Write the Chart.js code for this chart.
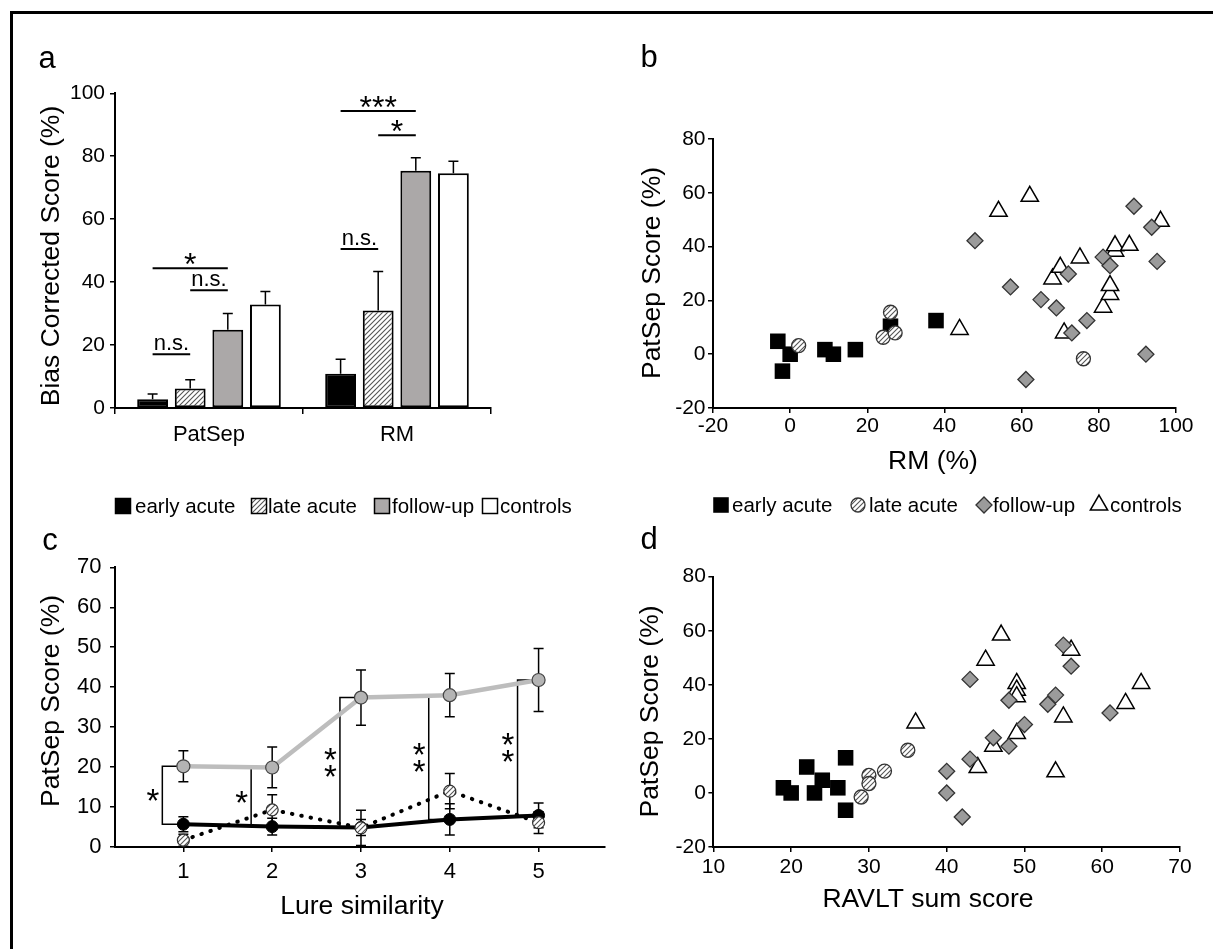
<!DOCTYPE html>
<html>
<head>
<meta charset="utf-8">
<script src="https://cdn.jsdelivr.net/npm/chart.js@4.4.1/dist/chart.umd.min.js"></script>
<style>
  html, body { margin: 0; padding: 0; background: #fff; }
  body { width: 1213px; height: 949px; position: relative; overflow: hidden; }
  .frame { position: absolute; left: 10px; top: 11px; width: 1220px; height: 960px;
           border-top: 3px solid #000; border-left: 3px solid #000; }
  canvas { position: absolute; }
  #panelA { left: 0; top: 0; }
  #panelB { left: 606px; top: 0; }
  #panelC { left: 0; top: 520px; }
  #panelD { left: 606px; top: 520px; }
</style>
</head>
<body>
<div class="frame"></div>
<canvas id="panelA" width="606" height="520"></canvas>
<canvas id="panelB" width="607" height="520"></canvas>
<canvas id="panelC" width="612" height="429"></canvas>
<canvas id="panelD" width="607" height="429"></canvas>
<script>
// --- a: bias corrected scores (mean, upper SEM) ---
const measures = ['PatSep', 'RM'];
const earlyAcuteBias = [2.75, 10.9];
const lateAcuteBias = [6.2, 31.0];
const followUpBias = [24.9, 75.4];
const controlsBias = [32.9, 74.6];
const earlyAcuteBiasErr = [1.7, 4.6];
const lateAcuteBiasErr = [2.8, 12.4];
const followUpBiasErr = [5.1, 4.1];
const controlsBiasErr = [4.1, 3.8];
// [measure, group a, group b, bar level, mark]
const biasSignif = [
  [0, 0, 2, 44.4, '*'],
  [0, 1, 2, 37.4, 'n.s.'],
  [0, 0, 1, 17.1, 'n.s.'],
  [1, 0, 2, 94.4, '***'],
  [1, 1, 2, 86.7, '*'],
  [1, 0, 1, 50.5, 'n.s.']
];

// --- b: RM vs PatSep score ---
const rmEarly = [-3.2, -2.0, 0.0, 9.0, 11.2, 16.9, 26.0, 37.8];
const patSepEarlyB = [4.8, -6.3, 0.0, 1.7, 0.0, 1.7, 10.4, 12.5];
const rmLate = [2.2, 24.1, 26.0, 27.2, 76.0];
const patSepLateB = [3.2, 6.3, 15.6, 7.9, -1.7];
const rmFollowUp = [47.9, 57.1, 61.1, 65.0, 69.0, 72.1, 73.0, 76.9, 81.1, 82.9, 89.1, 92.2, 93.7, 95.1];
const patSepFollowUpB = [42.2, 25.0, -9.4, 20.3, 17.2, 29.8, 7.9, 12.5, 36.1, 32.9, 55.0, 0.0, 47.2, 34.5];
const rmControls = [43.9, 54.0, 62.1, 68.0, 70.0, 71.0, 75.1, 81.1, 82.9, 82.9, 84.2, 84.2, 87.9, 96.0];
const patSepControlsB = [9.2, 53.1, 58.7, 28.0, 32.3, 7.9, 35.8, 17.5, 22.2, 25.5, 38.3, 40.3, 40.5, 49.4];

// --- c: PatSep score by lure similarity (mean, SEM) ---
const lureLevels = [1, 2, 3, 4, 5];
const earlyAcuteLure = [5.7, 5.1, 4.9, 6.9, 7.9];
const earlyAcuteLureErr = [1.9, 2.1, 2.0, 3.9, 3.1];
const lateAcuteLure = [1.7, 9.3, 4.8, 14.0, 6.1];
const lateAcuteLureErr = [1.5, 3.8, 4.4, 4.4, 2.7];
const followUpLure = [20.2, 19.9, 37.4, 38.0, 41.8];
const followUpLureErr = [3.9, 5.1, 6.9, 5.4, 7.9];
const lureStars = ['*', '*', '**', '**', '**'];

// --- d: RAVLT sum score vs PatSep score ---
const ravltEarly = [19, 20, 22, 23, 24, 26, 27, 27];
const patSepEarlyD = [1.9, 0.0, 9.6, 0.0, 4.7, 1.9, 13.0, -6.4];
const ravltLate = [29, 30, 30, 32, 35];
const patSepLateD = [-1.5, 6.5, 3.5, 8.1, 15.8];
const ravltFollowUp = [40, 40, 42, 43, 43, 46, 48, 48, 50, 53, 54, 55, 56, 61];
const patSepFollowUpD = [8.0, 0.0, -8.9, 42.0, 12.5, 20.4, 34.3, 17.3, 25.3, 32.8, 36.2, 54.7, 46.9, 29.6];
const ravltControls = [36, 44, 45, 46, 47, 49, 49, 49, 49, 54, 55, 56, 63, 65];
const patSepControlsD = [25.9, 9.4, 49.1, 17.3, 58.4, 40.5, 38.0, 35.6, 22.0, 7.8, 28.1, 52.8, 33.1, 40.5];

const FONT = "'Liberation Sans', Arial, Helvetica, sans-serif";
Chart.defaults.font.family = FONT;
Chart.defaults.font.size = 21;
Chart.defaults.color = '#000';
Chart.defaults.animation = false;
Chart.defaults.responsive = false;
Chart.defaults.events = [];
Chart.defaults.plugins.legend.display = false;
Chart.defaults.plugins.tooltip.enabled = false;

const zip = (xs, ys) => xs.map((x, i) => ({ x, y: ys[i] }));

function hatchPattern() {
  const c = document.createElement('canvas');
  c.width = c.height = 5;
  const g = c.getContext('2d');
  g.fillStyle = '#fff';
  g.fillRect(0, 0, 5, 5);
  g.strokeStyle = '#555';
  g.lineWidth = 1.1;
  g.beginPath();
  g.moveTo(0, 5); g.lineTo(5, 0);
  g.moveTo(-1, 1); g.lineTo(1, -1);
  g.moveTo(4, 6); g.lineTo(6, 4);
  g.stroke();
  return g.createPattern(c, 'repeat');
}
const hatch = hatchPattern();

function linearAxis(min, max, step, pad, fit, size) {
  return {
    type: 'linear', min, max,
    border: { color: '#000', width: 2 },
    grid: { drawOnChartArea: false, tickLength: 5, color: '#000', lineWidth: 1.5 },
    ticks: { stepSize: step, padding: pad, includeBounds: false, color: '#000', font: { size: size || 21 } },
    afterFit: fit
  };
}
const fixWidth = w => s => { s.width = w; };
const fixHeight = h => s => { s.height = h; };

// free text: panel letters and axis titles
function textLayer(items) {
  return {
    id: 'textLayer',
    afterDraw(chart) {
      const ctx = chart.ctx;
      items.forEach(t => {
        ctx.save();
        ctx.font = (t.size || 26) + 'px ' + FONT;
        ctx.fillStyle = '#000';
        ctx.textAlign = 'center';
        ctx.textBaseline = t.base || 'middle';
        ctx.translate(t.x, t.y);
        if (t.vertical) ctx.rotate(-Math.PI / 2);
        ctx.fillText(t.text, 0, 0);
        ctx.restore();
      });
    }
  };
}

function errorBars(capHalf, upperOnly, before) {
  const draw = chart => {
    const ctx = chart.ctx, y = chart.scales.y;
    ctx.save();
    ctx.strokeStyle = '#000';
    ctx.lineWidth = 1.5;
    chart.data.datasets.forEach((ds, di) => {
      if (!ds.errors) return;
      chart.getDatasetMeta(di).data.forEach((el, i) => {
        const raw = ds.data[i];
        const v = typeof raw === 'object' ? raw.y : raw;
        const e = ds.errors[i];
        const hi = y.getPixelForValue(v + e);
        const lo = y.getPixelForValue(upperOnly ? v : v - e);
        ctx.beginPath();
        ctx.moveTo(el.x, lo); ctx.lineTo(el.x, hi);
        ctx.moveTo(el.x - capHalf, hi); ctx.lineTo(el.x + capHalf, hi);
        if (!upperOnly) { ctx.moveTo(el.x - capHalf, lo); ctx.lineTo(el.x + capHalf, lo); }
        ctx.stroke();
      });
    });
    ctx.restore();
  };
  return before ? { id: 'errorBars', beforeDatasetsDraw: draw } : { id: 'errorBars', afterDatasetsDraw: draw };
}

function drawMarker(ctx, ds, x, y) {
  const r = ds.pointRadius;
  ctx.beginPath();
  if (ds.pointStyle === 'rect') {
    const h = r * Math.SQRT1_2;
    ctx.rect(x - h, y - h, 2 * h, 2 * h);
  } else if (ds.pointStyle === 'rectRot') {
    ctx.moveTo(x - r, y); ctx.lineTo(x, y - r); ctx.lineTo(x + r, y); ctx.lineTo(x, y + r);
    ctx.closePath();
  } else if (ds.pointStyle === 'triangle') {
    ctx.moveTo(x, y - r); ctx.lineTo(x + 0.866 * r, y + 0.5 * r); ctx.lineTo(x - 0.866 * r, y + 0.5 * r);
    ctx.closePath();
  } else {
    ctx.arc(x, y, r, 0, Math.PI * 2);
  }
  ctx.fillStyle = ds.pointBackgroundColor;
  ctx.fill();
  if (ds.pointBorderWidth) {
    ctx.lineWidth = ds.pointBorderWidth;
    ctx.strokeStyle = ds.pointBorderColor;
    ctx.stroke();
  }
}

function drawBox(ctx, ds, x, y) {
  const s = 15;
  ctx.fillStyle = ds.backgroundColor;
  ctx.fillRect(x - s / 2, y - s / 2, s, s);
  ctx.lineWidth = 1.5;
  ctx.strokeStyle = '#000';
  ctx.strokeRect(x - s / 2, y - s / 2, s, s);
}

// one row of legend entries: marker centres and text starts
function legendRow(markX, textX, cy, drawFn) {
  return {
    id: 'legendRow',
    afterDraw(chart) {
      const ctx = chart.ctx;
      chart.data.datasets.forEach((ds, i) => {
        ctx.save();
        drawFn(ctx, ds, markX[i], cy);
        ctx.fillStyle = '#000';
        ctx.font = '20.5px ' + FONT;
        ctx.textAlign = 'left';
        ctx.textBaseline = 'middle';
        ctx.fillText(ds.label, textX[i], cy + 1);
        ctx.restore();
      });
    }
  };
}

// ---------- a ----------
const sigPlugin = {
  id: 'sigBars',
  afterDatasetsDraw(chart) {
    const ctx = chart.ctx, y = chart.scales.y;
    ctx.save();
    ctx.strokeStyle = '#000';
    ctx.fillStyle = '#000';
    ctx.lineWidth = 2;
    ctx.textAlign = 'center';
    ctx.textBaseline = 'alphabetic';
    biasSignif.forEach(([cat, g1, g2, level, mark]) => {
      const x1 = chart.getDatasetMeta(g1).data[cat].x;
      const x2 = chart.getDatasetMeta(g2).data[cat].x;
      const py = y.getPixelForValue(level);
      ctx.beginPath();
      ctx.moveTo(x1, py); ctx.lineTo(x2, py);
      ctx.stroke();
      const star = mark[0] === '*';
      ctx.font = (star ? 32 : 22) + 'px ' + FONT;
      ctx.fillText(mark, (x1 + x2) / 2, star ? py + 7 : py - 4);
    });
    ctx.restore();
  }
};

new Chart(document.getElementById('panelA'), {
  type: 'bar',
  data: {
    labels: measures,
    datasets: [
      { label: 'early acute', data: earlyAcuteBias, errors: earlyAcuteBiasErr, backgroundColor: '#000' },
      { label: 'late acute', data: lateAcuteBias, errors: lateAcuteBiasErr, backgroundColor: hatch },
      { label: 'follow-up', data: followUpBias, errors: followUpBiasErr, backgroundColor: '#aba8a8' },
      { label: 'controls', data: controlsBias, errors: controlsBiasErr, backgroundColor: '#fff' }
    ]
  },
  options: {
    devicePixelRatio: 1,
    layout: { padding: { left: 0, top: 93.3, right: 115, bottom: 72 } },
    datasets: { bar: { borderColor: '#000', borderWidth: 2, borderSkipped: false, categoryPercentage: 0.8, barPercentage: 0.82 } },
    scales: {
      x: {
        type: 'category', offset: true,
        border: { color: '#000', width: 2 },
        grid: { offset: true, drawOnChartArea: false, tickLength: 6, color: '#000', lineWidth: 1.5 },
        ticks: { padding: 8, color: '#000', font: { size: 22 } },
        afterFit: fixHeight(40)
      },
      y: linearAxis(0, 100, 20, 5, fixWidth(115))
    }
  },
  plugins: [
    errorBars(5, true, false),
    sigPlugin,
    legendRow([123, 259, 382, 490], [135, 268, 392, 500], 506, drawBox),
    textLayer([
      { text: 'a', x: 47, y: 68, size: 31, base: 'alphabetic' },
      { text: 'Bias Corrected Score (%)', x: 52, y: 256, vertical: true, size: 26.5 }
    ])
  ]
});

// ---------- b / d scatter styles ----------
const earlyStyle = { pointStyle: 'rect', pointRadius: 11, pointBackgroundColor: '#000', pointBorderColor: '#000', pointBorderWidth: 0 };
const lateStyle = { pointStyle: 'circle', pointRadius: 7, pointBackgroundColor: hatch, pointBorderColor: '#333', pointBorderWidth: 1.3 };
const followStyle = { pointStyle: 'rectRot', pointRadius: 8, pointBackgroundColor: '#9b9b9b', pointBorderColor: '#333', pointBorderWidth: 1.3 };
const controlStyle = { pointStyle: 'triangle', pointRadius: 10, pointBackgroundColor: '#fff', pointBorderColor: '#000', pointBorderWidth: 1.5 };

function scatterSets(early, late, follow, controls) {
  return [
    { label: 'early acute', data: early, order: 3, ...earlyStyle },
    { label: 'late acute', data: late, order: 2, ...lateStyle },
    { label: 'follow-up', data: follow, order: 1, ...followStyle },
    { label: 'controls', data: controls, order: 4, ...controlStyle }
  ];
}

new Chart(document.getElementById('panelB'), {
  type: 'scatter',
  data: {
    datasets: scatterSets(
      zip(rmEarly, patSepEarlyB), zip(rmLate, patSepLateB),
      zip(rmFollowUp, patSepFollowUpB), zip(rmControls, patSepControlsB))
  },
  options: {
    devicePixelRatio: 1,
    clip: false,
    layout: { padding: { left: 0, top: 139, right: 37, bottom: 72 } },
    scales: {
      x: linearAxis(-20, 100, 20, 1, fixHeight(40)),
      y: linearAxis(-20, 80, 20, 2.5, fixWidth(107))
    }
  },
  plugins: [
    legendRow([115, 252, 378, 493], [126, 263, 387, 504], 505, drawMarker),
    textLayer([
      { text: 'b', x: 43, y: 67, size: 31, base: 'alphabetic' },
      { text: 'PatSep Score (%)', x: 47, y: 273, vertical: true, size: 26.5 },
      { text: 'RM (%)', x: 327, y: 462, size: 26.5 }
    ])
  ]
});

// ---------- c ----------
const bracketShift = 0.237;
const lureBrackets = {
  id: 'lureBrackets',
  beforeDatasetsDraw(chart) {
    const { ctx, scales: { x, y } } = chart;
    ctx.save();
    ctx.strokeStyle = '#000';
    ctx.lineWidth = 1.5;
    lureLevels.forEach((lvl, i) => {
      const bx = x.getPixelForValue(lvl - bracketShift);
      const px = x.getPixelForValue(lvl);
      const top = y.getPixelForValue(followUpLure[i]);
      const bot = y.getPixelForValue(earlyAcuteLure[i]);
      ctx.beginPath();
      ctx.moveTo(px, top); ctx.lineTo(bx, top); ctx.lineTo(bx, bot); ctx.lineTo(px, bot);
      ctx.stroke();
    });
    ctx.restore();
  },
  afterDatasetsDraw(chart) {
    const { ctx, scales: { x, y } } = chart;
    ctx.save();
    ctx.fillStyle = '#000';
    ctx.font = '33px ' + FONT;
    ctx.textAlign = 'center';
    ctx.textBaseline = 'alphabetic';
    lureLevels.forEach((lvl, i) => {
      const sx = x.getPixelForValue(lvl - bracketShift) - 9.5;
      const mid = (y.getPixelForValue(followUpLure[i]) + y.getPixelForValue(earlyAcuteLure[i])) / 2;
      const n = lureStars[i].length;
      for (let k = 0; k < n; k++) {
        const cy = mid + (k - (n - 1) / 2) * 17;
        ctx.fillText('*', sx, cy + 17);
      }
    });
    ctx.restore();
  }
};

new Chart(document.getElementById('panelC'), {
  type: 'line',
  data: {
    datasets: [
      { label: 'early acute', data: zip(lureLevels, earlyAcuteLure), errors: earlyAcuteLureErr, order: 2,
        borderColor: '#000', borderWidth: 4, pointRadius: 6, pointBackgroundColor: '#000', pointBorderColor: '#000', pointBorderWidth: 1 },
      { label: 'late acute', data: zip(lureLevels, lateAcuteLure), errors: lateAcuteLureErr, order: 1,
        borderColor: '#000', borderWidth: 4, borderDash: [0.5, 9], borderCapStyle: 'round',
        pointRadius: 6, pointBackgroundColor: hatch, pointBorderColor: '#333', pointBorderWidth: 1.2 },
      { label: 'follow-up', data: zip(lureLevels, followUpLure), errors: followUpLureErr, order: 3,
        borderColor: '#bdbdbd', borderWidth: 4.5, pointRadius: 6.5, pointBackgroundColor: '#b4b4b4', pointBorderColor: '#444', pointBorderWidth: 1.2 }
    ]
  },
  options: {
    devicePixelRatio: 1,
    clip: false,
    layout: { padding: { left: 0, top: 47.3, right: 6, bottom: 62 } },
    scales: {
      x: linearAxis(0.23, 5.74, 1, 6.4, fixHeight(40), 22),
      y: linearAxis(0, 70, 10, 8.5, fixWidth(115), 22)
    }
  },
  plugins: [
    lureBrackets,
    errorBars(5, false, true),
    textLayer([
      { text: 'c', x: 50, y: 30, size: 31, base: 'alphabetic' },
      { text: 'PatSep Score (%)', x: 52, y: 181, vertical: true, size: 26.5 },
      { text: 'Lure similarity', x: 362, y: 387, size: 26.5 }
    ])
  ]
});

// ---------- d ----------
new Chart(document.getElementById('panelD'), {
  type: 'scatter',
  data: {
    datasets: scatterSets(
      zip(ravltEarly, patSepEarlyD), zip(ravltLate, patSepLateD),
      zip(ravltFollowUp, patSepFollowUpD), zip(ravltControls, patSepControlsD))
  },
  options: {
    devicePixelRatio: 1,
    clip: false,
    layout: { padding: { left: 0, top: 56.7, right: 33, bottom: 62 } },
    scales: {
      x: linearAxis(10, 70, 10, 3, fixHeight(40)),
      y: linearAxis(-20, 80, 20, 2.5, fixWidth(107.4))
    }
  },
  plugins: [
    textLayer([
      { text: 'd', x: 43, y: 29, size: 31, base: 'alphabetic' },
      { text: 'PatSep Score (%)', x: 45, y: 191.5, vertical: true, size: 26.5 },
      { text: 'RAVLT sum score', x: 322, y: 380, size: 26.5 }
    ])
  ]
});
</script>
</body>
</html>
